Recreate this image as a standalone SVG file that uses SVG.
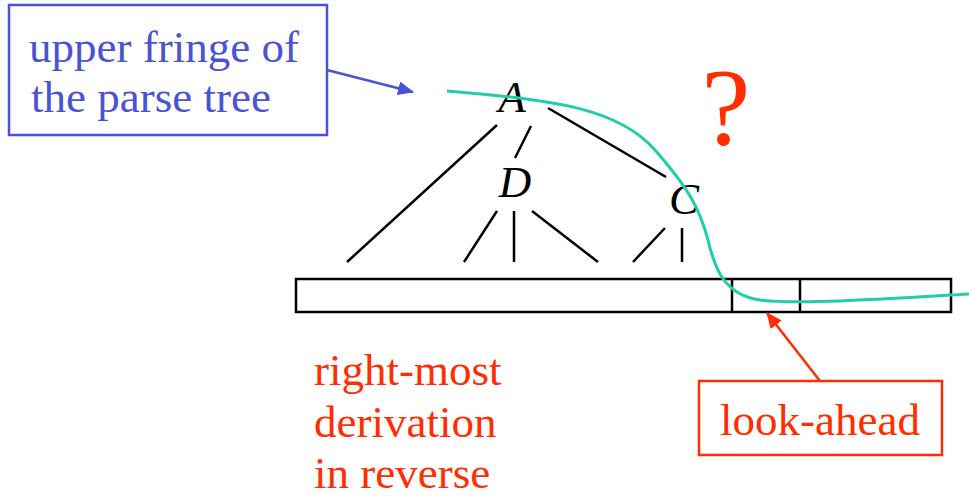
<svg xmlns="http://www.w3.org/2000/svg" width="969" height="501" viewBox="0 0 969 501">
<style>
.serif{font-family:"Liberation Serif","Times New Roman",serif;font-size:45px}
.blue{fill:#4a52d6}
.red{fill:#ff2d00}
.it{font-style:italic;fill:#000}
.tree{stroke:#000;stroke-width:2.5;fill:none}
</style>
<defs>
<marker id="ab" markerWidth="16" markerHeight="14" refX="15" refY="7" orient="auto" markerUnits="userSpaceOnUse">
<path d="M0,0 L16,7 L0,14 Z" fill="#4a52d6"/>
</marker>
<marker id="ar" markerWidth="16" markerHeight="14" refX="15" refY="7" orient="auto" markerUnits="userSpaceOnUse">
<path d="M0,0 L16,7 L0,14 Z" fill="#ff2d00"/>
</marker>
</defs>
<rect width="969" height="501" fill="#fff"/>
<g id="fringe-label">
<rect x="9" y="5" width="318" height="130" fill="#fff" stroke="#4a52d6" stroke-width="2.5"/>
<text class="serif blue" x="29" y="62">upper fringe of</text>
<text class="serif blue" x="31" y="112">the parse tree</text>
</g>
<g id="tree">
<text class="serif it" x="512" y="112" text-anchor="middle">A</text>
<text class="serif it" x="515" y="197" text-anchor="middle">D</text>
<text class="serif it" x="684" y="214" text-anchor="middle">C</text>
<path class="tree" d="M497,125 L347,262 M531,126 L515,158 M548,108 L666,177 M497,211 L464,262 M514,211 L514,262 M532,211 L598,262 M665,228 L633,262 M682,228 L682,262"/>
</g>
<g id="input">
<rect x="296" y="279" width="655" height="33" fill="none" stroke="#000" stroke-width="2.5"/>
<line x1="732" y1="279" x2="732" y2="312" stroke="#000" stroke-width="2.5"/>
<line x1="800" y1="279" x2="800" y2="312" stroke="#000" stroke-width="2.5"/>
</g>
<g id="question">
<text x="726" y="144" text-anchor="middle" style="font-family:'Liberation Serif','Times New Roman',serif;font-size:110px" fill="#ff2d00">?</text>
</g>
<g id="derivation-label">
<text class="serif red" x="314" y="385">right-most</text>
<text class="serif red" x="314" y="437">derivation</text>
<text class="serif red" x="314" y="488">in reverse</text>
</g>
<g id="lookahead-label">
<rect x="699" y="381" width="243" height="74" fill="#fff" stroke="#ff2d00" stroke-width="2.5"/>
<text class="serif red" x="820" y="435" text-anchor="middle">look-ahead</text>
</g>
<g id="connectors">
<path d="M447,91 C560,100 620,110 655,150 C690,190 700,210 708,240 C715,270 725,295 760,300 C800,305 900,298 969,294" fill="none" stroke="#1fcfa8" stroke-width="3"/>
<line x1="327" y1="70" x2="413" y2="92" stroke="#4a52d6" stroke-width="2.5" marker-end="url(#ab)"/>
<line x1="820" y1="381" x2="767" y2="313" stroke="#ff2d00" stroke-width="2.5" marker-end="url(#ar)"/>
</g>
</svg>
